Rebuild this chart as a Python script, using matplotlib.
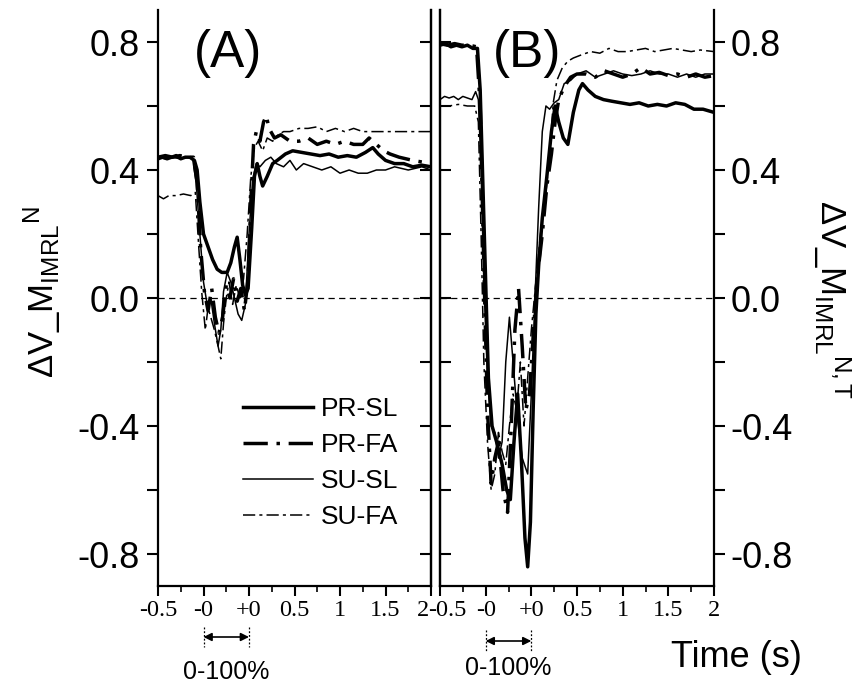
"""
Two-panel normalised IMRL response: (A) and (B), pre / movement (0-100%) / post
"""
import matplotlib
matplotlib.use('Agg')
import matplotlib.pyplot as plt
import matplotlib.transforms as mtransforms
from matplotlib.ticker import FixedLocator, FormatStrFormatter

plt.rcParams['font.family'] = ['Liberation Sans', 'DejaVu Sans']
plt.rcParams['mathtext.fontset'] = 'custom'
plt.rcParams['mathtext.rm'] = 'Liberation Sans'
plt.rcParams['mathtext.it'] = 'Liberation Sans:italic'
plt.rcParams['axes.unicode_minus'] = False

# x axis: -0.5..-0 pre-movement, -0..+0 movement (0-100 %), +0..2 s post-movement
tick_pos = [-0.5, 0.0, 0.5, 1.0, 1.5, 2.0, 2.5]
tick_labels = ['-0.5', '-0', '+0', '0.5', '1', '1.5', '2']
minor_pos = [-0.25, 0.25, 0.75, 1.25, 1.75, 2.25]
y_major = [-0.8, -0.4, 0.0, 0.4, 0.8]
y_minor = [-0.6, -0.2, 0.2, 0.6]
move_start, move_end = 0.0, 0.5

names = ['PR-SL', 'PR-FA', 'SU-SL', 'SU-FA']

# panel A  (x position, value)
a_prsl = [(-0.50, 0.435), (-0.45, 0.44), (-0.40, 0.435), (-0.35, 0.44), (-0.30, 0.445),
          (-0.25, 0.435), (-0.20, 0.44), (-0.15, 0.44), (-0.10, 0.43), (-0.07, 0.40),
          (-0.04, 0.30), (0.00, 0.20), (0.05, 0.16), (0.10, 0.12), (0.15, 0.09),
          (0.20, 0.08), (0.26, 0.08), (0.30, 0.11), (0.34, 0.16), (0.37, 0.19),
          (0.40, 0.12), (0.43, 0.04), (0.46, 0.01), (0.49, 0.03), (0.53, 0.22),
          (0.56, 0.38), (0.59, 0.42), (0.62, 0.38), (0.65, 0.35), (0.70, 0.38),
          (0.76, 0.42), (0.81, 0.43), (0.90, 0.45), (0.98, 0.46), (1.08, 0.455),
          (1.18, 0.45), (1.28, 0.445), (1.38, 0.45), (1.48, 0.44), (1.58, 0.445),
          (1.68, 0.44), (1.78, 0.455), (1.86, 0.47), (1.92, 0.45), (2.00, 0.43),
          (2.10, 0.42), (2.20, 0.42), (2.30, 0.41), (2.40, 0.415), (2.50, 0.41)]
a_prfa = [(-0.50, 0.44), (-0.42, 0.445), (-0.34, 0.44), (-0.26, 0.445), (-0.18, 0.44),
          (-0.11, 0.44), (-0.07, 0.36), (-0.03, 0.15), (0.01, 0.02), (0.05, -0.04),
          (0.09, 0.03), (0.13, -0.06), (0.17, -0.11), (0.21, -0.06), (0.25, 0.04),
          (0.29, 0.00), (0.33, 0.06), (0.37, -0.01), (0.41, 0.03), (0.45, -0.04),
          (0.49, 0.06), (0.52, 0.30), (0.55, 0.48), (0.58, 0.52), (0.62, 0.49),
          (0.66, 0.55), (0.69, 0.57), (0.72, 0.53), (0.78, 0.50), (0.85, 0.51),
          (0.95, 0.49), (1.05, 0.49), (1.15, 0.50), (1.25, 0.48), (1.35, 0.49),
          (1.45, 0.48), (1.55, 0.49), (1.65, 0.48), (1.75, 0.48), (1.82, 0.50),
          (1.90, 0.48), (1.98, 0.46), (2.05, 0.45), (2.15, 0.44), (2.30, 0.43),
          (2.50, 0.42)]
a_susl = [(-0.50, 0.44), (-0.42, 0.435), (-0.34, 0.44), (-0.26, 0.435), (-0.18, 0.44),
          (-0.12, 0.435), (-0.08, 0.36), (-0.04, 0.20), (0.00, 0.05), (0.04, -0.02),
          (0.08, 0.00), (0.12, -0.08), (0.16, -0.15), (0.19, -0.10), (0.22, 0.02),
          (0.26, 0.08), (0.30, 0.05), (0.34, 0.00), (0.38, -0.05), (0.42, -0.07),
          (0.46, -0.02), (0.50, 0.20), (0.54, 0.37), (0.58, 0.42), (0.62, 0.41),
          (0.68, 0.43), (0.74, 0.44), (0.80, 0.42), (0.88, 0.41), (0.95, 0.43),
          (1.02, 0.40), (1.10, 0.42), (1.20, 0.41), (1.30, 0.40), (1.40, 0.41),
          (1.50, 0.39), (1.60, 0.40), (1.70, 0.39), (1.80, 0.39), (1.90, 0.40),
          (2.00, 0.40), (2.10, 0.41), (2.25, 0.40), (2.40, 0.41), (2.50, 0.40)]
a_sufa = [(-0.50, 0.32), (-0.44, 0.31), (-0.38, 0.32), (-0.30, 0.32), (-0.22, 0.325),
          (-0.14, 0.32), (-0.09, 0.33), (-0.05, 0.15), (-0.02, 0.02), (0.02, -0.10),
          (0.05, -0.03), (0.08, -0.06), (0.12, -0.10), (0.16, -0.15), (0.19, -0.19),
          (0.22, -0.08), (0.25, 0.00), (0.28, 0.05), (0.32, -0.02), (0.36, 0.04),
          (0.40, 0.00), (0.44, 0.06), (0.48, 0.20), (0.52, 0.38), (0.56, 0.47),
          (0.60, 0.49), (0.65, 0.46), (0.70, 0.50), (0.76, 0.49), (0.82, 0.51),
          (0.88, 0.52), (0.95, 0.52), (1.05, 0.53), (1.15, 0.53), (1.25, 0.535),
          (1.35, 0.52), (1.45, 0.53), (1.55, 0.52), (1.65, 0.53), (1.75, 0.52),
          (1.85, 0.52), (2.00, 0.52), (2.20, 0.52), (2.50, 0.52)]

# panel B
b_prsl = [(-0.50, 0.79), (-0.44, 0.795), (-0.38, 0.785), (-0.32, 0.79), (-0.26, 0.785),
          (-0.20, 0.79), (-0.14, 0.78), (-0.09, 0.78), (-0.06, 0.65), (-0.03, 0.35),
          (0.00, 0.05), (0.03, -0.25), (0.07, -0.40), (0.12, -0.45), (0.18, -0.52),
          (0.23, -0.60), (0.27, -0.63), (0.31, -0.45), (0.35, -0.30), (0.39, -0.50),
          (0.43, -0.75), (0.46, -0.84), (0.49, -0.70), (0.52, -0.35), (0.55, -0.05),
          (0.58, 0.10), (0.62, 0.25), (0.67, 0.38), (0.72, 0.52), (0.76, 0.60),
          (0.80, 0.55), (0.85, 0.50), (0.90, 0.48), (0.96, 0.58), (1.02, 0.65),
          (1.06, 0.67), (1.12, 0.65), (1.20, 0.63), (1.29, 0.62), (1.38, 0.615),
          (1.48, 0.61), (1.58, 0.605), (1.68, 0.61), (1.78, 0.60), (1.88, 0.605),
          (1.98, 0.60), (2.08, 0.61), (2.18, 0.605), (2.28, 0.59), (2.38, 0.59),
          (2.50, 0.58)]
b_prfa = [(-0.50, 0.795), (-0.42, 0.79), (-0.34, 0.795), (-0.26, 0.79), (-0.18, 0.79),
          (-0.10, 0.785), (-0.06, 0.60), (-0.02, 0.10), (0.02, -0.35), (0.06, -0.58),
          (0.10, -0.50), (0.14, -0.45), (0.19, -0.60), (0.24, -0.67), (0.28, -0.40),
          (0.32, -0.10), (0.36, 0.03), (0.40, -0.15), (0.44, -0.35), (0.48, -0.30),
          (0.52, -0.12), (0.56, 0.05), (0.62, 0.20), (0.67, 0.35), (0.72, 0.45),
          (0.76, 0.55), (0.80, 0.62), (0.86, 0.66), (0.93, 0.69), (1.00, 0.70),
          (1.10, 0.70), (1.20, 0.69), (1.30, 0.71), (1.40, 0.70), (1.50, 0.69),
          (1.60, 0.70), (1.70, 0.72), (1.80, 0.70), (1.90, 0.705), (2.00, 0.695),
          (2.10, 0.70), (2.20, 0.69), (2.30, 0.70), (2.40, 0.69), (2.50, 0.695)]
b_susl = [(-0.50, 0.62), (-0.45, 0.63), (-0.40, 0.625), (-0.35, 0.63), (-0.30, 0.62),
          (-0.25, 0.63), (-0.20, 0.625), (-0.15, 0.62), (-0.11, 0.645), (-0.08, 0.62),
          (-0.05, 0.40), (-0.02, 0.05), (0.02, -0.25), (0.06, -0.40), (0.10, -0.42),
          (0.14, -0.50), (0.18, -0.45), (0.22, -0.20), (0.26, -0.06), (0.30, -0.20),
          (0.35, -0.38), (0.40, -0.50), (0.46, -0.55), (0.50, -0.30), (0.54, 0.00),
          (0.58, 0.28), (0.62, 0.52), (0.66, 0.60), (0.70, 0.59), (0.75, 0.61),
          (0.80, 0.62), (0.86, 0.67), (0.93, 0.68), (1.00, 0.70), (1.10, 0.71),
          (1.20, 0.69), (1.30, 0.70), (1.40, 0.71), (1.50, 0.70), (1.60, 0.695),
          (1.70, 0.70), (1.80, 0.71), (1.90, 0.70), (2.00, 0.70), (2.10, 0.69),
          (2.20, 0.70), (2.30, 0.69), (2.40, 0.70), (2.50, 0.70)]
b_sufa = [(-0.50, 0.60), (-0.40, 0.60), (-0.30, 0.605), (-0.20, 0.60), (-0.12, 0.60),
          (-0.08, 0.55), (-0.05, 0.20), (-0.02, -0.20), (0.02, -0.45), (0.06, -0.60),
          (0.10, -0.55), (0.14, -0.42), (0.18, -0.48), (0.22, -0.52), (0.26, -0.40),
          (0.30, -0.30), (0.34, -0.35), (0.38, -0.20), (0.42, -0.40), (0.46, -0.25),
          (0.50, -0.10), (0.55, 0.05), (0.60, 0.20), (0.65, 0.30), (0.70, 0.45),
          (0.74, 0.61), (0.78, 0.68), (0.84, 0.72), (0.90, 0.74), (0.96, 0.75),
          (1.05, 0.76), (1.15, 0.77), (1.25, 0.765), (1.35, 0.78), (1.45, 0.77),
          (1.55, 0.77), (1.65, 0.775), (1.75, 0.78), (1.85, 0.77), (1.95, 0.775),
          (2.05, 0.78), (2.15, 0.775), (2.25, 0.77), (2.35, 0.775), (2.50, 0.77)]

styles = {
    'PR-SL': dict(ls='-', lw=2.5),
    'PR-FA': dict(ls=(0, (7, 2.5, 1, 2.5)), lw=2.5),
    'SU-SL': dict(ls='-', lw=1.1),
    'SU-FA': dict(ls=(0, (8, 2.7, 2, 2.7)), lw=1.1),
}

W, H = 861, 685
fig = plt.figure(figsize=(W / 100, H / 100), dpi=100)
axA = fig.add_axes([158 / W, 1 - 586 / H, (431 - 158) / W, (586 - 10) / H])
axB = fig.add_axes([440 / W, 1 - 586 / H, (714 - 440) / W, (586 - 10) / H])


def setup(ax, side):
    ax.set_xlim(-0.5, 2.5)
    ax.set_ylim(-0.9, 0.9)
    ax.spines['top'].set_visible(False)
    for s in ['left', 'right', 'bottom']:
        ax.spines[s].set_linewidth(1.6)
    ax.set_xticks(tick_pos, tick_labels, fontfamily='Liberation Serif')
    ax.xaxis.set_minor_locator(FixedLocator(minor_pos))
    ax.tick_params(axis='x', which='major', direction='out', length=7, width=1.5,
                   top=False, labelsize=17.5, pad=3)
    ax.tick_params(axis='x', which='minor', direction='out', length=4.5, width=1.2, top=False)
    ax.set_yticks(y_major)
    ax.yaxis.set_minor_locator(FixedLocator(y_minor))
    ax.yaxis.set_major_formatter(FormatStrFormatter('%.1f'))
    other = 'right' if side == 'left' else 'left'
    if side == 'right':
        ax.yaxis.tick_right()
    ax.tick_params(axis='y', which='both', direction='out', length=8, width=1.5,
                   labelsize=26, pad=5 if side == 'left' else 4,
                   left=(side == 'left'), right=(side == 'right'),
                   labelleft=(side == 'left'), labelright=(side == 'right'))
    sec = ax.secondary_yaxis(other)
    sec.set_yticks(y_major)
    sec.yaxis.set_minor_locator(FixedLocator(y_minor))
    sec.set_yticklabels([])
    sec.tick_params(axis='y', which='both', direction='in', length=8, width=1.5)
    sec.spines[other].set_linewidth(1.6)
    ax.axhline(0, color='k', lw=0.9, ls=(0, (5, 3.5)), zorder=1)


setup(axA, 'left')
setup(axB, 'right')

# the two panels' end labels sit side by side ("2-0.5"): nudge them apart
lab_last = axA.get_xticklabels()[-1]
lab_last.set_transform(lab_last.get_transform()
                       + mtransforms.ScaledTranslation(-8 / 100, 0, fig.dpi_scale_trans))
lab_first = axB.get_xticklabels()[0]
lab_first.set_transform(lab_first.get_transform()
                        + mtransforms.ScaledTranslation(7 / 100, 0, fig.dpi_scale_trans))

for ax, series in [(axA, [a_prsl, a_prfa, a_susl, a_sufa]),
                   (axB, [b_prsl, b_prfa, b_susl, b_sufa])]:
    for name, data in zip(names, series):
        xs, ys = zip(*data)
        ax.plot(xs, ys, color='k', label=name, **styles[name])

axA.legend(loc='center left', bbox_to_anchor=(243 / W, 1 - 463 / H),
           bbox_transform=fig.transFigure, frameon=False, fontsize=19,
           handlelength=2.65, handletextpad=0.3, labelspacing=0.45,
           borderpad=0, borderaxespad=0)

fig.text(228 / W, 1 - 54 / H, '(A)', ha='center', va='center', fontsize=37)
fig.text(527 / W, 1 - 54 / H, '(B)', ha='center', va='center', fontsize=37)

# movement-phase markers under each x axis
for ax, y_arrow, y_top, y_bot, y_txt in [(axA, 637, 627, 647, 679), (axB, 641, 630, 652, 675)]:
    trans = mtransforms.blended_transform_factory(ax.transData, fig.transFigure)
    for xv in (move_start, move_end):
        ax.plot([xv, xv], [1 - y_top / H, 1 - y_bot / H], transform=trans, color='k',
                lw=0.9, ls=(0, (1.5, 1.5)), clip_on=False)
    ax.annotate('', xy=(move_end, 1 - y_arrow / H), xytext=(move_start, 1 - y_arrow / H),
                xycoords=trans, textcoords=trans, annotation_clip=False,
                arrowprops=dict(arrowstyle='<|-|>', color='k', lw=1.2,
                                shrinkA=0, shrinkB=0, mutation_scale=12))
    ax.text((move_start + move_end) / 2, 1 - y_txt / H, '0-100%', transform=trans,
            ha='center', va='baseline', fontsize=18)

fig.text(736 / W, 1 - 667 / H, 'Time (s)', ha='center', va='baseline', fontsize=26)

fig.text(42 / W, 1 - 292 / H, 'ΔV_M$_{\\mathrm{IMRL}}{}^{\\mathrm{N}}$',
         rotation=90, ha='center', va='center', fontsize=25)
fig.text(832 / W, 1 - 300 / H, 'ΔV_M$_{\\mathrm{IMRL}}{}^{\\mathrm{N,T}}$',
         rotation=-90, ha='center', va='center', fontsize=25)

fig.savefig('out.png', dpi=100)
print("saved: out.png")
